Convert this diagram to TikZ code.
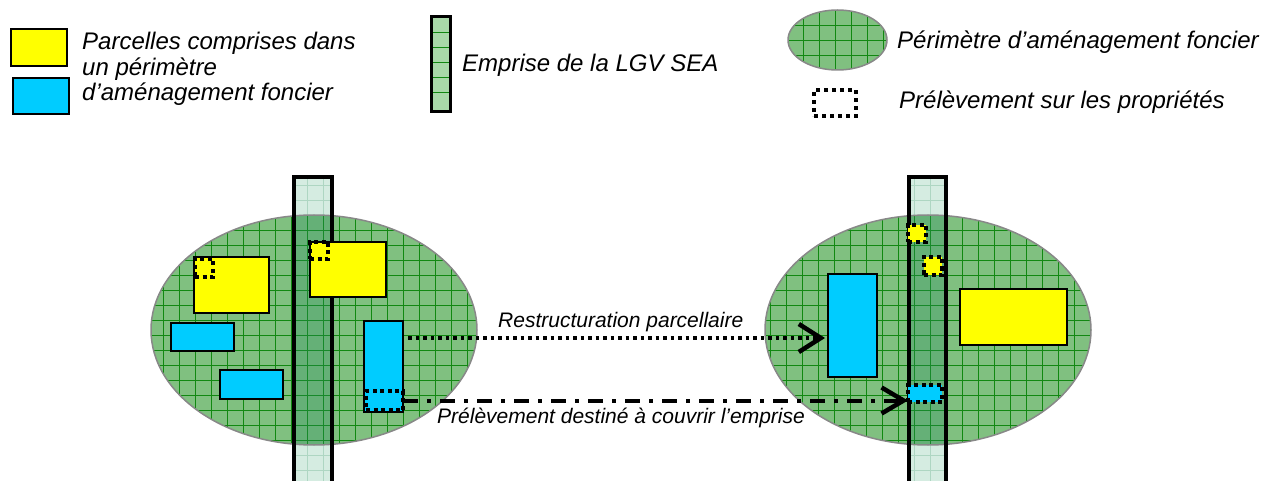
\documentclass[tikz,border=0pt]{standalone}
\usepackage{fontspec}
\setmainfont{Liberation Sans}
\usetikzlibrary{arrows.meta,shapes.geometric,calc}
\definecolor{yel}{HTML}{FFFF00}
\definecolor{cya}{HTML}{00CCFF}
\definecolor{ellg}{HTML}{80C080}
\definecolor{gridg}{HTML}{118811}
\definecolor{stripl}{HTML}{D5ECE1}
\definecolor{stripgl}{HTML}{AED6C2}
\definecolor{stript}{RGB}{40,140,100}
\definecolor{legstrip}{HTML}{A8D8A8}
\definecolor{ellborder}{HTML}{888888}
\begin{document}
\begin{tikzpicture}[x=1pt,y=-1pt,
  box/.style={draw=black, line width=2pt, inner sep=0pt, outer sep=0pt},
  ybox/.style={box, fill=yel},
  bbox/.style={box, fill=cya},
  dotbox/.style={draw=black, line width=4pt, dash pattern=on 4pt off 3.5pt, inner sep=0pt, outer sep=0pt},
  stripbox/.style={draw=black, line width=4pt, inner sep=0pt, outer sep=0pt},
  ellbox/.style={ellipse, draw=ellborder, line width=1.5pt, inner sep=0pt, outer sep=0pt},
  gridln/.style={gridg, line width=0.8pt},
  lightln/.style={stripgl, line width=0.6pt},
  legtxt/.style={font=\fontsize{24}{26}\selectfont\itshape, anchor=base west, inner sep=0pt},
  lbltxt/.style={font=\fontsize{21}{24}\selectfont\itshape, anchor=base west, inner sep=0pt}
]
\useasboundingbox (0,0) rectangle (1272,481);

% ---------- Legend ----------
\node[ybox, minimum width=56pt, minimum height=37pt] (legY) at (39,47.5) {};
\node[bbox, minimum width=56pt, minimum height=36pt] (legB) at (41,96) {};
\node[legtxt] (t1a) at (82,50) {Parcelles comprises dans};
\node[legtxt] (t1b) at (82,75.5) {un périmètre};
\node[legtxt] (t1c) at (82,101) {d’aménagement foncier};

\fill[legstrip] (431.5,16.5) rectangle (450.5,111.5);
\foreach \k in {0,...,5} \draw[gridg, line width=0.7pt] (431.5,17+\k*15) -- (450.5,17+\k*15);
\node[draw=black, line width=3pt, inner sep=0pt, minimum width=19pt, minimum height=95pt] (legS) at (441,64) {};
\node[legtxt] (t2) at (462,72) {Emprise de la LGV SEA};

\begin{scope}
  \clip (837.5,40) ellipse [x radius=49.5pt, y radius=30pt];
  \fill[ellg] (780,5) rectangle (895,75);
  \foreach \k in {0,...,7} \draw[gridln] (787+\k*16,5) -- (787+\k*16,75);
  \foreach \k in {0,...,4} \draw[gridln] (780,10+\k*15) -- (895,10+\k*15);
\end{scope}
\node[ellbox, minimum width=99pt, minimum height=60pt] (legE) at (837.5,40) {};
\node[legtxt] (t3) at (897,49) {Périmètre d’aménagement foncier};

\node[draw=black, line width=4pt, dash pattern=on 4pt off 4pt, inner sep=0pt, minimum width=42pt, minimum height=26pt] (legD) at (835,103) {};
\node[legtxt] (t4) at (899,109) {Prélèvement sur les propriétés};

% ---------- Left scene ----------
\fill[stripl] (294,177) rectangle (331.5,500);
\begin{scope}
  \clip (294,177) rectangle (331.5,500);
  \foreach \k in {0,...,3} \draw[lightln] (291+\k*16,170) -- (291+\k*16,500);
  \foreach \k in {0,...,21} \draw[lightln] (290,185+\k*15) -- (335,185+\k*15);
\end{scope}
\begin{scope}
  \clip (314,330) ellipse [x radius=163pt, y radius=115pt];
  \fill[ellg] (140,200) rectangle (490,460);
  \foreach \k in {0,...,21} \draw[gridln] (147+\k*16,200) -- (147+\k*16,460);
  \foreach \k in {0,...,17} \draw[gridln] (140,215+\k*15) -- (490,215+\k*15);
  \fill[stript, fill opacity=0.3] (294,177) rectangle (331.5,500);
\end{scope}
\node[ellbox, minimum width=326pt, minimum height=230pt] (E1) at (314,330) {};
\node[stripbox, minimum width=37.5pt, minimum height=323pt] (S1) at (312.75,338.5) {};

\node[ybox, minimum width=75pt, minimum height=56pt] (LY1) at (231.5,285) {};
\node[dotbox, minimum width=18pt, minimum height=18pt] (LY1d) at (204,268) {};
\node[ybox, minimum width=76pt, minimum height=55pt] (LY2) at (348,269.5) {};
\node[dotbox, minimum width=18pt, minimum height=17pt] (LY2d) at (319,250.5) {};
\node[bbox, minimum width=63pt, minimum height=28pt] (LB1) at (202.5,337) {};
\node[bbox, minimum width=63pt, minimum height=29pt] (LB2) at (251.5,384.5) {};
\node[bbox, minimum width=39pt, minimum height=91pt] (LB3) at (383.5,366.5) {};
\node[dotbox, minimum width=37pt, minimum height=19pt] (LD) at (384.5,400.5) {};

% ---------- Right scene ----------
\fill[stripl] (909,177) rectangle (945.5,500);
\begin{scope}
  \clip (909,177) rectangle (945.5,500);
  \foreach \k in {0,...,3} \draw[lightln] (898+\k*16,170) -- (898+\k*16,500);
  \foreach \k in {0,...,21} \draw[lightln] (905,185+\k*15) -- (950,185+\k*15);
\end{scope}
\begin{scope}
  \clip (928,330) ellipse [x radius=163pt, y radius=115pt];
  \fill[ellg] (755,200) rectangle (1100,460);
  \foreach \k in {0,...,22} \draw[gridln] (754+\k*16,200) -- (754+\k*16,460);
  \foreach \k in {0,...,17} \draw[gridln] (755,215+\k*15) -- (1100,215+\k*15);
  \fill[stript, fill opacity=0.3] (909,177) rectangle (945.5,500);
\end{scope}
\node[ellbox, minimum width=326pt, minimum height=230pt] (E2) at (928,330) {};
\node[stripbox, minimum width=36.5pt, minimum height=323pt] (S2) at (927.25,338.5) {};

\node[bbox, minimum width=49pt, minimum height=103pt] (RB) at (852.5,325.5) {};
\node[ybox, minimum width=107pt, minimum height=56pt] (RY) at (1013.5,317) {};
\node[dotbox, fill=yel, minimum width=18pt, minimum height=17pt] (RY1) at (917,233.5) {};
\node[dotbox, fill=yel, minimum width=18pt, minimum height=18pt] (RY2) at (933,266) {};
\node[dotbox, fill=cya, minimum width=34pt, minimum height=17pt] (RD) at (925,393.5) {};

% ---------- Arrows ----------
\coordinate (y338) at (0,338);
\coordinate (a1) at (LB3.east |- y338);
\draw[line width=3.5pt, dash pattern=on 3.5pt off 4pt, shorten <=5pt, shorten >=3pt,
      -{Straight Barb[length=22pt, width=28pt, line width=4.5pt]}] (a1) -- (a1 -| RB.west);
\draw[line width=4pt, dash pattern=on 15pt off 9pt on 4pt off 9pt,
      -{Straight Barb[length=22pt, width=26pt, line width=4.5pt]}] (LD.east) -- (LD.east -| RD.west);

\node[lbltxt] (l1) at (498,327) {Restructuration parcellaire};
\node[lbltxt] (l2) at (437,423) {Prélèvement destiné à couvrir l’emprise};
\end{tikzpicture}
\end{document}
